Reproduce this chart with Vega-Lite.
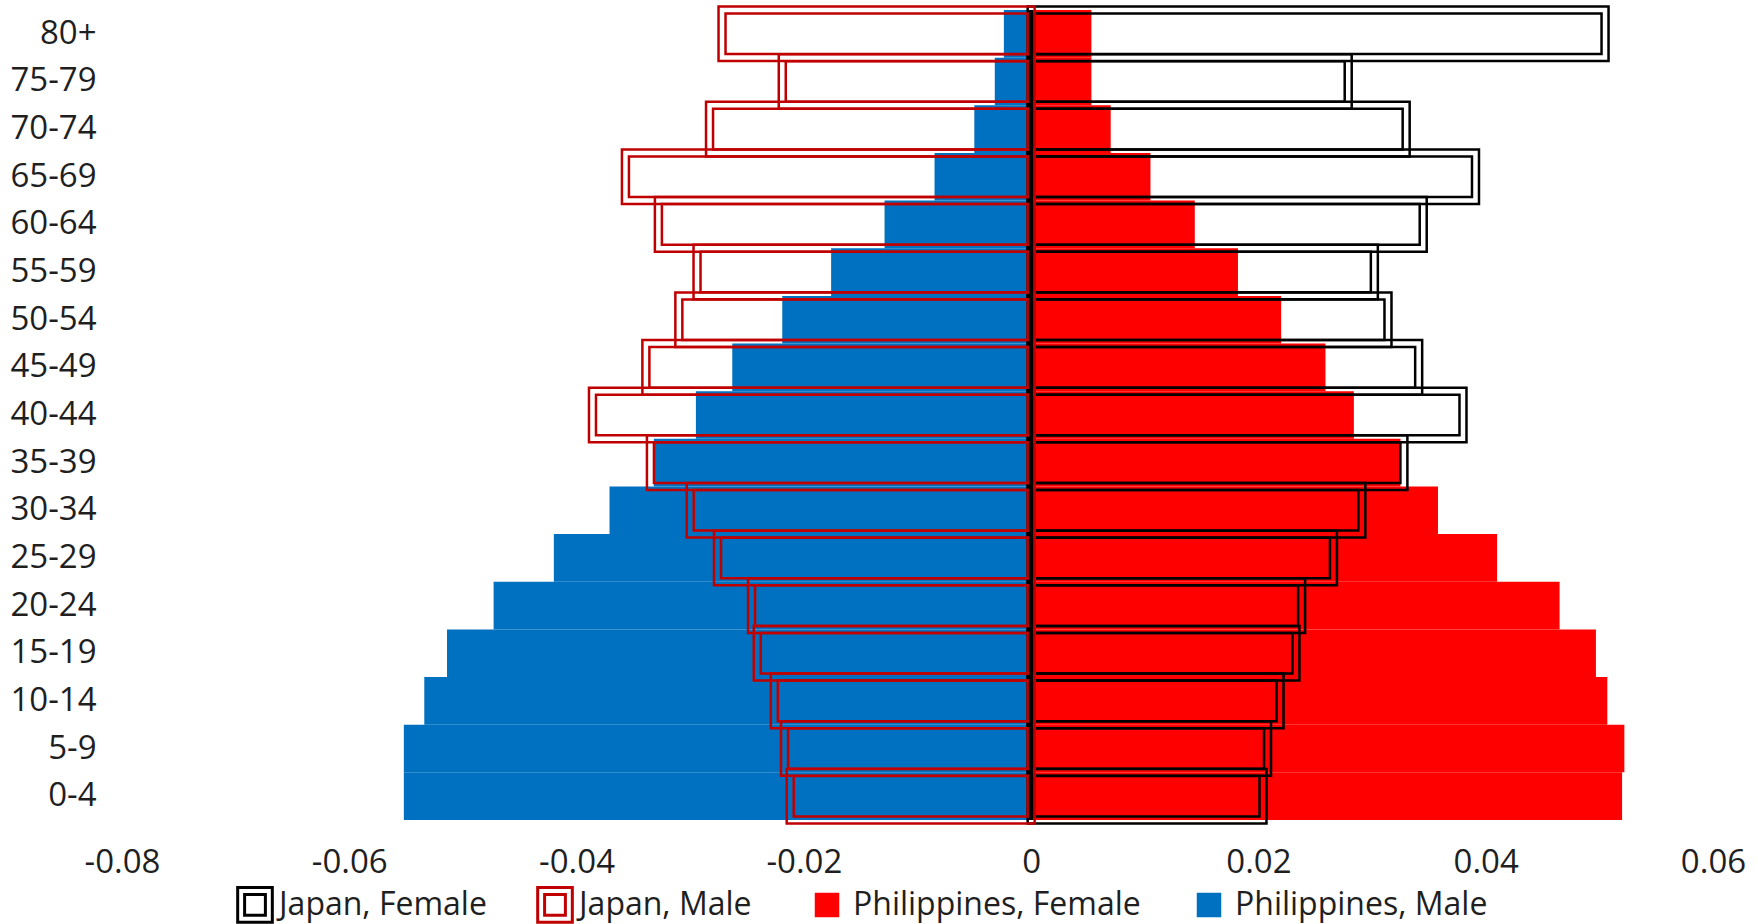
{
  "$schema": "https://vega.github.io/schema/vega-lite/v6.json",
  "autosize": {"type": "none"},
  "padding": {"left": 122, "top": 10, "right": 44, "bottom": 104},
  "width": 1591,
  "height": 810,
  "background": "white",
  "config": {
    "view": {"stroke": null},
    "font": "Open Sans",
    "axis": {"labelFont": "Open Sans", "labelColor": "#1f1f1f"},
    "legend": {"labelFont": "Open Sans", "labelColor": "#1f1f1f", "labelLimit": 500}
  },
  "data": {
    "values": [
      {"age": "80+", "series": "Philippines, Male", "value": -0.0024},
      {"age": "80+", "series": "Philippines, Female", "value": 0.0053},
      {"age": "80+", "series": "Japan, Male", "value": -0.0272},
      {"age": "80+", "series": "Japan, Female", "value": 0.0505},
      {"age": "75-79", "series": "Philippines, Male", "value": -0.0032},
      {"age": "75-79", "series": "Philippines, Female", "value": 0.0053},
      {"age": "75-79", "series": "Japan, Male", "value": -0.0219},
      {"age": "75-79", "series": "Japan, Female", "value": 0.0279},
      {"age": "70-74", "series": "Philippines, Male", "value": -0.0050},
      {"age": "70-74", "series": "Philippines, Female", "value": 0.0070},
      {"age": "70-74", "series": "Japan, Male", "value": -0.0283},
      {"age": "70-74", "series": "Japan, Female", "value": 0.0330},
      {"age": "65-69", "series": "Philippines, Male", "value": -0.0085},
      {"age": "65-69", "series": "Philippines, Female", "value": 0.0105},
      {"age": "65-69", "series": "Japan, Male", "value": -0.0357},
      {"age": "65-69", "series": "Japan, Female", "value": 0.0391},
      {"age": "60-64", "series": "Philippines, Male", "value": -0.0129},
      {"age": "60-64", "series": "Philippines, Female", "value": 0.0144},
      {"age": "60-64", "series": "Japan, Male", "value": -0.0328},
      {"age": "60-64", "series": "Japan, Female", "value": 0.0345},
      {"age": "55-59", "series": "Philippines, Male", "value": -0.0176},
      {"age": "55-59", "series": "Philippines, Female", "value": 0.0182},
      {"age": "55-59", "series": "Japan, Male", "value": -0.0294},
      {"age": "55-59", "series": "Japan, Female", "value": 0.0302},
      {"age": "50-54", "series": "Philippines, Male", "value": -0.0219},
      {"age": "50-54", "series": "Philippines, Female", "value": 0.0220},
      {"age": "50-54", "series": "Japan, Male", "value": -0.0310},
      {"age": "50-54", "series": "Japan, Female", "value": 0.0314},
      {"age": "45-49", "series": "Philippines, Male", "value": -0.0263},
      {"age": "45-49", "series": "Philippines, Female", "value": 0.0259},
      {"age": "45-49", "series": "Japan, Male", "value": -0.0339},
      {"age": "45-49", "series": "Japan, Female", "value": 0.0341},
      {"age": "40-44", "series": "Philippines, Male", "value": -0.0295},
      {"age": "40-44", "series": "Philippines, Female", "value": 0.0284},
      {"age": "40-44", "series": "Japan, Male", "value": -0.0386},
      {"age": "40-44", "series": "Japan, Female", "value": 0.0380},
      {"age": "35-39", "series": "Philippines, Male", "value": -0.0332},
      {"age": "35-39", "series": "Philippines, Female", "value": 0.0325},
      {"age": "35-39", "series": "Japan, Male", "value": -0.0335},
      {"age": "35-39", "series": "Japan, Female", "value": 0.0328},
      {"age": "30-34", "series": "Philippines, Male", "value": -0.0371},
      {"age": "30-34", "series": "Philippines, Female", "value": 0.0358},
      {"age": "30-34", "series": "Japan, Male", "value": -0.0300},
      {"age": "30-34", "series": "Japan, Female", "value": 0.0291},
      {"age": "25-29", "series": "Philippines, Male", "value": -0.0420},
      {"age": "25-29", "series": "Philippines, Female", "value": 0.0410},
      {"age": "25-29", "series": "Japan, Male", "value": -0.0276},
      {"age": "25-29", "series": "Japan, Female", "value": 0.0266},
      {"age": "20-24", "series": "Philippines, Male", "value": -0.0473},
      {"age": "20-24", "series": "Philippines, Female", "value": 0.0465},
      {"age": "20-24", "series": "Japan, Male", "value": -0.0246},
      {"age": "20-24", "series": "Japan, Female", "value": 0.0238},
      {"age": "15-19", "series": "Philippines, Male", "value": -0.0514},
      {"age": "15-19", "series": "Philippines, Female", "value": 0.0497},
      {"age": "15-19", "series": "Japan, Male", "value": -0.0241},
      {"age": "15-19", "series": "Japan, Female", "value": 0.0233},
      {"age": "10-14", "series": "Philippines, Male", "value": -0.0534},
      {"age": "10-14", "series": "Philippines, Female", "value": 0.0507},
      {"age": "10-14", "series": "Japan, Male", "value": -0.0226},
      {"age": "10-14", "series": "Japan, Female", "value": 0.0219},
      {"age": "5-9", "series": "Philippines, Male", "value": -0.0552},
      {"age": "5-9", "series": "Philippines, Female", "value": 0.0522},
      {"age": "5-9", "series": "Japan, Male", "value": -0.0217},
      {"age": "5-9", "series": "Japan, Female", "value": 0.0208},
      {"age": "0-4", "series": "Philippines, Male", "value": -0.0552},
      {"age": "0-4", "series": "Philippines, Female", "value": 0.0520},
      {"age": "0-4", "series": "Japan, Male", "value": -0.0212},
      {"age": "0-4", "series": "Japan, Female", "value": 0.0204}
    ]
  },
  "layer": [
    {
      "transform": [{"filter": "indexof(datum.series, 'Philippines') == 0"}],
      "mark": {"type": "bar", "opacity": 1},
      "encoding": {
        "y": {
          "field": "age", "type": "nominal",
          "sort": ["80+", "75-79", "70-74", "65-69", "60-64", "55-59", "50-54", "45-49", "40-44", "35-39", "30-34", "25-29", "20-24", "15-19", "10-14", "5-9", "0-4"],
          "scale": {"paddingInner": 0, "paddingOuter": 0},
          "axis": {"title": null, "domain": false, "ticks": false, "labelPadding": 26, "labelFontSize": 33}
        },
        "x": {
          "field": "value", "type": "quantitative", "stack": null,
          "scale": {"domain": [-0.08, 0.06], "nice": false, "zero": false},
          "axis": {
            "title": null, "domain": false, "ticks": false, "grid": false,
            "values": [-0.08, -0.06, -0.04, -0.02, 0, 0.02, 0.04, 0.06],
            "labelExpr": "datum.value == 0 ? '0' : (datum.value < 0 ? '-' : '') + format(abs(datum.value), '.2f')",
            "labelFlush": false, "labelOverlap": false,
            "labelPadding": 26, "labelFontSize": 33
          }
        },
        "x2": {"datum": 0},
        "fill": {
          "field": "series", "type": "nominal",
          "scale": {"domain": ["Philippines, Female", "Philippines, Male"], "range": ["#FF0000", "#0070C0"]},
          "legend": {
            "title": null, "orient": "none", "direction": "horizontal",
            "legendX": 689, "legendY": 879,
            "symbolType": "square", "symbolSize": 600,
            "labelFontSize": 32, "labelOffset": 10, "columnPadding": 52
          }
        }
      }
    },
    {
      "transform": [{"filter": "datum.series == 'Japan, Female'"}],
      "mark": {"type": "bar", "filled": false, "strokeWidth": 2.5, "size": 54.6, "xOffset": 3.5, "x2Offset": -3.5, "opacity": 1},
      "encoding": {
        "y": {"field": "age", "type": "nominal", "sort": ["80+", "75-79", "70-74", "65-69", "60-64", "55-59", "50-54", "45-49", "40-44", "35-39", "30-34", "25-29", "20-24", "15-19", "10-14", "5-9", "0-4"]},
        "x": {"field": "value", "type": "quantitative", "stack": null},
        "x2": {"datum": 0},
        "stroke": {
          "field": "series", "type": "nominal",
          "scale": {"domain": ["Japan, Female", "Japan, Male"], "range": ["#000000", "#C00000"]},
          "legend": {
            "title": null, "orient": "none", "direction": "horizontal",
            "legendX": 114, "legendY": 875.5,
            "symbolType": "M -1 -1 H 1 V 1 H -1 Z M -0.6 -0.6 H 0.6 V 0.6 H -0.6 Z",
            "symbolSize": 1200, "symbolStrokeWidth": 3, "symbolFillColor": "white",
            "labelFontSize": 32, "labelOffset": 5, "columnPadding": 44
          }
        }
      }
    },
    {
      "transform": [{"filter": "datum.series == 'Japan, Female'"}],
      "mark": {"type": "bar", "filled": false, "strokeWidth": 2.5, "size": 40.6, "xOffset": -3.5, "x2Offset": 3.5, "opacity": 1},
      "encoding": {
        "y": {"field": "age", "type": "nominal", "sort": ["80+", "75-79", "70-74", "65-69", "60-64", "55-59", "50-54", "45-49", "40-44", "35-39", "30-34", "25-29", "20-24", "15-19", "10-14", "5-9", "0-4"]},
        "x": {"field": "value", "type": "quantitative", "stack": null},
        "x2": {"datum": 0},
        "stroke": {"field": "series", "type": "nominal"}
      }
    },
    {
      "transform": [{"filter": "datum.series == 'Japan, Male'"}],
      "mark": {"type": "bar", "filled": false, "strokeWidth": 2.5, "size": 54.6, "xOffset": -3.5, "x2Offset": 3.5, "opacity": 1},
      "encoding": {
        "y": {"field": "age", "type": "nominal", "sort": ["80+", "75-79", "70-74", "65-69", "60-64", "55-59", "50-54", "45-49", "40-44", "35-39", "30-34", "25-29", "20-24", "15-19", "10-14", "5-9", "0-4"]},
        "x": {"field": "value", "type": "quantitative", "stack": null},
        "x2": {"datum": 0},
        "stroke": {"field": "series", "type": "nominal"}
      }
    },
    {
      "transform": [{"filter": "datum.series == 'Japan, Male'"}],
      "mark": {"type": "bar", "filled": false, "strokeWidth": 2.5, "size": 40.6, "xOffset": 3.5, "x2Offset": -3.5, "opacity": 1},
      "encoding": {
        "y": {"field": "age", "type": "nominal", "sort": ["80+", "75-79", "70-74", "65-69", "60-64", "55-59", "50-54", "45-49", "40-44", "35-39", "30-34", "25-29", "20-24", "15-19", "10-14", "5-9", "0-4"]},
        "x": {"field": "value", "type": "quantitative", "stack": null},
        "x2": {"datum": 0},
        "stroke": {"field": "series", "type": "nominal"}
      }
    },
    {
      "mark": {"type": "rule", "color": "#000000", "strokeWidth": 3.5},
      "encoding": {"x": {"datum": 0}}
    }
  ]
}
